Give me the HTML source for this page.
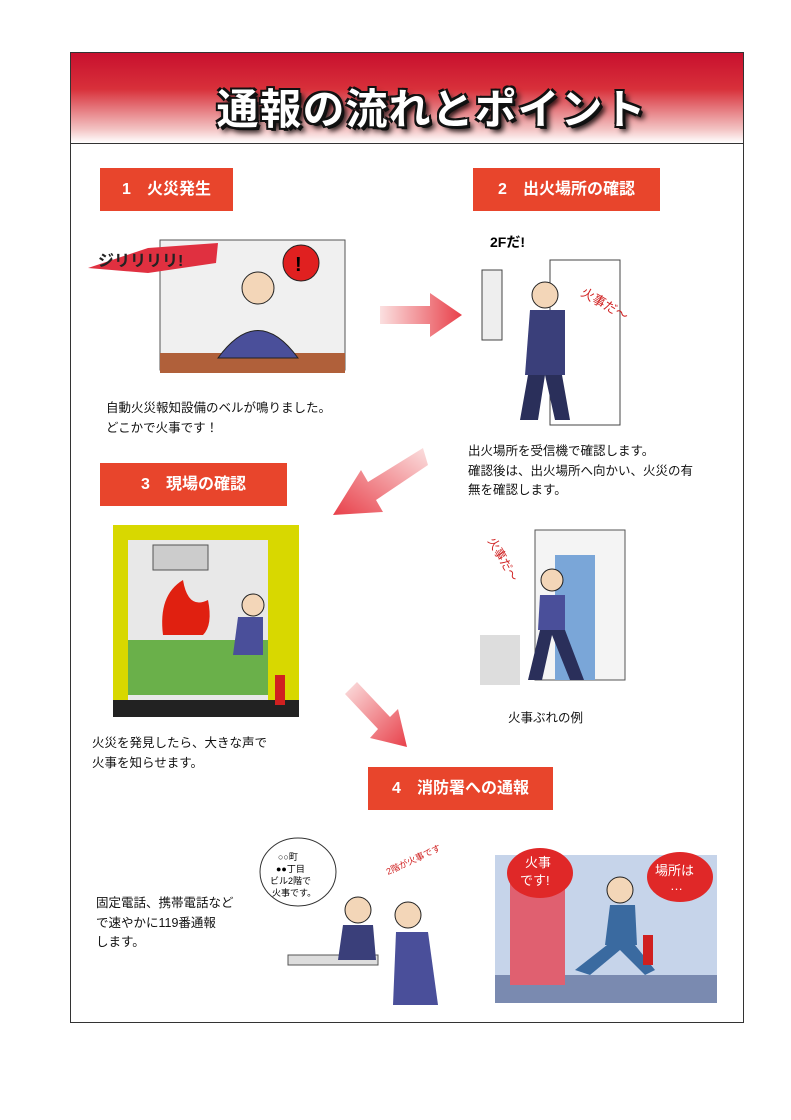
<!DOCTYPE html>
<html><head><meta charset="utf-8"><style>
body{margin:0;width:791px;height:1120px;background:#fff;position:relative;overflow:hidden;font-family:"Liberation Sans","Noto Sans CJK JP",sans-serif;}
.frame{position:absolute;left:70px;top:52px;width:674px;height:971px;border:1.5px solid #333;box-sizing:border-box;}
.head{position:absolute;left:71px;top:53px;width:672px;height:90px;background:linear-gradient(#c8102e,#d8303a 40%,#f3c4c4 85%,#fff);border-bottom:1.5px solid #333;}
.title{position:absolute;left:0;width:100%;top:76px;text-align:center;font-size:42px;font-weight:bold;color:#fff;letter-spacing:1px;text-shadow:2px 2px 0 #111,-2px -2px 0 #111,2px -2px 0 #111,-2px 2px 0 #111,3px 3px 0 #111,5px 5px 6px #000;padding-left:72px;box-sizing:border-box;}
.lab{position:absolute;height:43px;background:#e8452c;color:#fff;font-size:16px;font-weight:bold;line-height:43px;text-align:center;}
.t{position:absolute;font-size:12.5px;color:#111;line-height:19.5px;white-space:nowrap;}
.img{position:absolute;}
</style></head><body>
<div class="frame"></div>
<div class="head"></div>
<div class="title">通報の流れとポイント</div>

<div class="lab" style="left:100px;top:168px;width:133px">1　火災発生</div>
<div class="lab" style="left:473px;top:168px;width:187px">2　出火場所の確認</div>
<div class="lab" style="left:100px;top:463px;width:187px">3　現場の確認</div>
<div class="lab" style="left:368px;top:767px;width:185px">4　消防署への通報</div>

<svg class="img" style="left:88px;top:228px" width="260" height="160">
<rect x="72" y="12" width="185" height="130" fill="#f0f0f0" stroke="#555"/>
<rect x="72" y="125" width="185" height="20" fill="#b0603a"/>
<path d="M0 40 L60 20 L130 15 L128 35 L60 45 Z" fill="#e03040"/>
<text x="10" y="38" font-size="16" font-weight="bold" fill="#222">ジリリリリ!</text>
<circle cx="213" cy="35" r="18" fill="#e02020" stroke="#222"/>
<text x="207" y="43" font-size="20" font-weight="bold">!</text>
<circle cx="170" cy="60" r="16" fill="#f3d6b8" stroke="#222"/>
<path d="M130 130 Q170 75 210 130 Z" fill="#4a4f9a" stroke="#222"/>
</svg>

<svg class="img" style="left:380px;top:290px" width="90" height="50">
<defs><linearGradient id="g1" x1="0" x2="1"><stop offset="0" stop-color="#fbe0e0"/><stop offset="1" stop-color="#e8404a"/></linearGradient></defs>
<polygon points="0,16 50,16 50,3 82,25 50,47 50,34 0,34" fill="url(#g1)"/>
</svg>

<svg class="img" style="left:470px;top:225px" width="160" height="205">
<rect x="80" y="35" width="70" height="165" fill="#fff" stroke="#444"/>
<rect x="12" y="45" width="20" height="70" fill="#eee" stroke="#444"/>
<text x="20" y="22" font-size="14" font-weight="bold">2Fだ!</text>
<text x="110" y="70" font-size="13" fill="#d02020" transform="rotate(30 110 70)">火事だ〜</text>
<circle cx="75" cy="70" r="13" fill="#f3d6b8" stroke="#222"/>
<path d="M55 150 L60 85 L95 85 L95 150 Z" fill="#3a3f7a"/>
<path d="M58 150 L50 195 L68 195 L75 150 L85 195 L100 195 L92 150Z" fill="#2a2f5a"/>
</svg>

<svg class="img" style="left:328px;top:440px" width="100" height="85">
<defs><linearGradient id="g2" x1="1" y1="0" x2="0" y2="1"><stop offset="0" stop-color="#fbe0e0"/><stop offset="1" stop-color="#e8404a"/></linearGradient></defs>
<polygon points="95,8 40,42 33,30 5,75 55,72 48,60 100,25" fill="url(#g2)"/>
</svg>

<svg class="img" style="left:113px;top:525px" width="186" height="192">
<rect x="0" y="0" width="186" height="192" fill="#d8d800"/>
<rect x="15" y="15" width="140" height="160" fill="#e8e8e8"/>
<rect x="15" y="115" width="140" height="55" fill="#6ab04a"/>
<rect x="40" y="20" width="55" height="25" fill="#ccc" stroke="#555"/>
<path d="M50 110 Q45 70 70 55 Q75 85 95 75 Q100 100 90 110Z" fill="#e02010"/>
<rect x="0" y="175" width="186" height="17" fill="#222"/>
<circle cx="140" cy="80" r="11" fill="#f3d6b8" stroke="#222"/>
<path d="M120 130 L125 92 L150 92 L150 130Z" fill="#4a4f9a"/>
<rect x="162" y="150" width="10" height="30" fill="#d02020"/>
</svg>

<svg class="img" style="left:480px;top:525px" width="146" height="166">
<rect x="55" y="5" width="90" height="150" fill="#f4f4f4" stroke="#555"/>
<rect x="75" y="30" width="40" height="125" fill="#7aa6d8"/>
<path d="M0 110 L40 110 L40 160 L0 160Z" fill="#ddd"/>
<text x="5" y="20" font-size="12" fill="#d02020" transform="rotate(60 10 20)">火事だ〜</text>
<circle cx="72" cy="55" r="11" fill="#f3d6b8" stroke="#222"/>
<path d="M58 105 L60 70 L85 70 L85 105Z" fill="#4a4f9a"/>
<path d="M60 105 L48 155 L62 155 L72 110 L90 155 L104 155 L85 105Z" fill="#2a2f5a"/>
</svg>

<svg class="img" style="left:345px;top:682px" width="70" height="70">
<defs><linearGradient id="g3" x1="0" y1="0" x2="1" y2="1"><stop offset="0" stop-color="#fbe0e0"/><stop offset="1" stop-color="#e8404a"/></linearGradient></defs>
<polygon points="0,12 12,0 45,35 53,27 62,65 25,56 33,47" fill="url(#g3)"/>
</svg>

<svg class="img" style="left:258px;top:830px" width="205" height="178">
<ellipse cx="40" cy="42" rx="38" ry="34" fill="#fff" stroke="#333"/>
<text x="20" y="30" font-size="9">○○町</text><text x="18" y="42" font-size="9">●●丁目</text><text x="12" y="54" font-size="9">ビル2階で</text><text x="14" y="66" font-size="9">火事です。</text>
<text x="130" y="45" font-size="9" fill="#d02020" transform="rotate(-25 130 45)">2階が火事です</text>
<rect x="30" y="125" width="90" height="10" fill="#ddd" stroke="#555"/>
<circle cx="100" cy="80" r="13" fill="#f3d6b8" stroke="#222"/>
<path d="M80 130 L85 95 L115 95 L118 130Z" fill="#3a3f7a"/>
<circle cx="150" cy="85" r="13" fill="#f3d6b8" stroke="#222"/>
<path d="M135 175 L138 102 L170 102 L180 175Z" fill="#4a4f9a"/>
</svg>

<svg class="img" style="left:495px;top:845px" width="222" height="158">
<rect x="0" y="10" width="222" height="148" fill="#c6d4ea"/>
<rect x="0" y="130" width="222" height="28" fill="#7a8ab0"/>
<rect x="15" y="30" width="55" height="110" fill="#e06070"/>
<ellipse cx="45" cy="28" rx="33" ry="25" fill="#e02828"/>
<text x="30" y="22" font-size="13" fill="#fff">火事</text><text x="25" y="40" font-size="13" fill="#fff">です!</text>
<ellipse cx="185" cy="32" rx="33" ry="25" fill="#e02828"/>
<text x="160" y="30" font-size="13" fill="#fff">場所は</text><text x="175" y="45" font-size="13" fill="#fff">…</text>
<circle cx="125" cy="45" r="13" fill="#f3d6b8" stroke="#222"/>
<path d="M110 100 L115 60 L140 60 L142 100Z" fill="#3a6aa0"/>
<path d="M112 100 L80 125 L95 130 L125 105 L150 130 L160 125 L140 100Z" fill="#3a6aa0"/>
<rect x="148" y="90" width="10" height="30" fill="#d02020"/>
</svg>

<div class="t" style="left:106px;top:399px">自動火災報知設備のベルが鳴りました。<br>どこかで火事です！</div>
<div class="t" style="left:468px;top:442px">出火場所を受信機で確認します。<br>確認後は、出火場所へ向かい、火災の有<br>無を確認します。</div>
<div class="t" style="left:508px;top:709px">火事ぶれの例</div>
<div class="t" style="left:92px;top:734px">火災を発見したら、大きな声で<br>火事を知らせます。</div>
<div class="t" style="left:96px;top:894px">固定電話、携帯電話など<br>で速やかに119番通報<br>します。</div>
</body></html>
